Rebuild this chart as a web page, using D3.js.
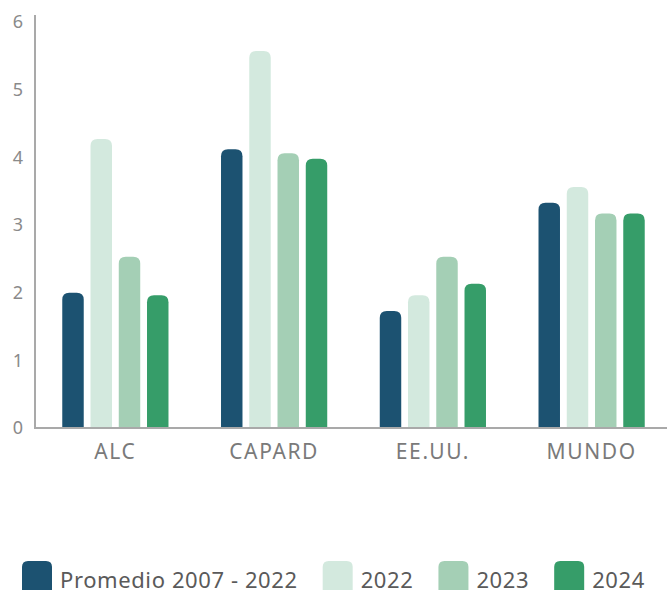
<!DOCTYPE html>
<html>
<head>
<meta charset="utf-8">
<script src="https://cdn.jsdelivr.net/npm/d3@7"></script>
<style>
  html, body { margin: 0; padding: 0; background: #fff; }
  svg { display: block; font-family: "Noto Sans", sans-serif; }
</style>
</head>
<body>
<div id="chart"></div>
<script>
// data
var categories = ['ALC', 'CAPARD', 'EE.UU.', 'MUNDO'];
var seriesNames = ['Promedio 2007 - 2022', '2022', '2023', '2024'];
var promedio = [2.0, 4.12, 1.73, 3.33];
var v2022 = [4.27, 5.57, 1.96, 3.56];
var v2023 = [2.53, 4.06, 2.53, 3.17];
var v2024 = [1.96, 3.98, 2.13, 3.17];
var yTicks = [0, 1, 2, 3, 4, 5, 6];
var colors = ['#1c5271', '#d3e9de', '#a4cfb5', '#369d69'];

var seriesValues = [promedio, v2022, v2023, v2024];

var W = 667, H = 590;
var svg = d3.select('#chart').append('svg')
  .attr('width', W)
  .attr('height', H);

var x0 = d3.scaleBand().domain(categories).range([36, 671]).padding(0);
var x1 = d3.scaleBand().domain(seriesNames).range([0, 113])
  .paddingInner(0.24).paddingOuter(0.12);
var y = d3.scaleLinear().domain([0, 6]).range([428, 22]);

// rounded top bar
function barPath(x, yTop, w, yBase, r) {
  var h = yBase - yTop;
  r = Math.min(r, w / 2, h);
  return 'M' + x + ',' + yBase +
    'V' + (yTop + r) +
    'Q' + x + ',' + yTop + ' ' + (x + r) + ',' + yTop +
    'H' + (x + w - r) +
    'Q' + (x + w) + ',' + yTop + ' ' + (x + w) + ',' + (yTop + r) +
    'V' + yBase + 'Z';
}

// bars
var groups = svg.append('g').selectAll('g')
  .data(categories)
  .enter().append('g')
  .attr('transform', function (c) {
    return 'translate(' + (x0(c) + x0.bandwidth() / 2 - 56.5) + ',0)';
  });

groups.selectAll('path')
  .data(function (c, ci) {
    return seriesNames.map(function (s, si) {
      return {series: s, value: seriesValues[si][ci], color: colors[si]};
    });
  })
  .enter().append('path')
  .attr('d', function (d) {
    return barPath(x1(d.series), y(d.value), x1.bandwidth(), y(0), 7);
  })
  .style('fill', function (d) { return d.color; });

// axes lines
svg.append('line')
  .attr('x1', 35).attr('x2', 35)
  .attr('y1', 15).attr('y2', 429)
  .style('stroke', '#a9a9a9').style('stroke-width', 2);
svg.append('line')
  .attr('x1', 34).attr('x2', W)
  .attr('y1', y(0)).attr('y2', y(0))
  .style('stroke', '#a9a9a9').style('stroke-width', 2);

// y tick labels
svg.append('g').selectAll('text')
  .data(yTicks)
  .enter().append('text')
  .attr('x', 23)
  .attr('y', function (d) { return y(d); })
  .attr('dy', '0.35em')
  .attr('text-anchor', 'end')
  .style('font-size', '18px')
  .style('fill', '#8a8a8a')
  .text(function (d) { return d; });

// x labels
svg.append('g').selectAll('text')
  .data(categories)
  .enter().append('text')
  .attr('x', function (c) { return x0(c) + x0.bandwidth() / 2; })
  .attr('y', 459)
  .attr('text-anchor', 'middle')
  .style('font-size', '21px')
  .style('letter-spacing', '1.6px')
  .style('fill', '#7a7a7a')
  .text(function (c) { return c; });

// legend
var legend = svg.append('g');
var lx = 22;
seriesNames.forEach(function (s, i) {
  legend.append('path')
    .attr('d', barPath(lx, 561, 30, 600, 6))
    .style('fill', colors[i]);
  var t = legend.append('text')
    .attr('x', lx + 38)
    .attr('y', 588)
    .style('font-size', '22px')
    .style('letter-spacing', '0.6px')
    .style('fill', '#5a5a5a')
    .text(s);
  lx += 38 + t.node().getComputedTextLength() + 25;
});
</script>
</body>
</html>
